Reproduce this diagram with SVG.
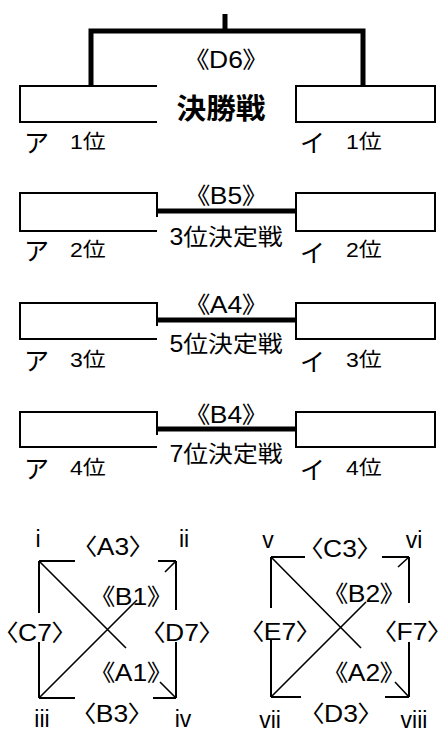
<svg xmlns="http://www.w3.org/2000/svg" width="446" height="742" viewBox="0 0 446 742">
<style>
text{font-family:"Liberation Sans","Noto Sans CJK JP",sans-serif;fill:#000;transform-box:fill-box}
.lb{font-size:23px;text-anchor:middle;font-feature-settings:"palt" 1;transform-origin:center;transform:scaleX(1.15)}
.kana{font-size:25px}
.rank{font-size:20px;transform-origin:left;transform:scaleX(1.15)}
.match{font-size:23px;text-anchor:middle;transform-origin:center;transform:scaleX(1.08)}
.final{font-size:28px;font-weight:bold;text-anchor:middle;transform-origin:center;transform:scaleX(1.06)}
.rn{font-size:23px;text-anchor:middle}
.box{fill:none;stroke:#000;stroke-width:2}
.thick{fill:none;stroke:#000;stroke-width:5}
.thin{fill:none;stroke:#000;stroke-width:2}
.diag{fill:none;stroke:#000;stroke-width:1.6}
</style>
<rect width="446" height="742" fill="#fff"/>
<g id="connectors">
<path class="thick" d="M91,87 V31 H363 V87 M225,14 V31"/>
<path class="thick" d="M157,211 H296"/>
<path class="thick" d="M157,320 H296"/>
<path class="thick" d="M157,429 H296"/>
<path class="thin" d="M39,561 H75 M158,561 H176 M39,561 V613 M39,642 V698 M39,698 H75 M153,698 H176 M176,561 V610 M176,642 V698"/>
<path class="diag" d="M39,561 L126,648 M39,698 L137,600 M165,572 L176,561 M160,682 L176,698"/>
<path class="thin" d="M271,557 H305 M382,557 H409 M271,557 V608 M271,640 V697 M271,697 H301 M385,697 H409 M409,557 V603 M409,642 V697"/>
<path class="diag" d="M271,557 L361,648 M271,697 L366,602 M398,567 L409,557 M395,682 L409,697"/>
</g>
<g id="final">
<path class="box" d="M157,86 H20 V122 H157"/>
<rect class="box" x="296" y="86" width="139" height="36"/>
<text class="lb" x="226" y="68">《D6》</text>
<text class="final" x="221" y="119">決勝戦</text>
<text class="kana" x="24" y="152">ア</text><text class="rank" x="70" y="149">1位</text>
<text class="kana" x="300" y="152">イ</text><text class="rank" x="346" y="149">1位</text>
</g>
<g id="third">
<path class="box" d="M157,217 V193 H20 V231 H157"/>
<rect class="box" x="296" y="193" width="139" height="38"/>
<text class="lb" x="226" y="204">《B5》</text>
<text class="match" x="226" y="245">3位決定戦</text>
<text class="kana" x="24" y="260">ア</text><text class="rank" x="70" y="257">2位</text>
<text class="kana" x="300" y="262">イ</text><text class="rank" x="346" y="257">2位</text>
</g>
<g id="fifth">
<path class="box" d="M157,326 V303 H20 V339 H157"/>
<rect class="box" x="296" y="303" width="139" height="36"/>
<text class="lb" x="226" y="313">《A4》</text>
<text class="match" x="226" y="352">5位決定戦</text>
<text class="kana" x="24" y="370">ア</text><text class="rank" x="70" y="367">3位</text>
<text class="kana" x="300" y="371">イ</text><text class="rank" x="346" y="367">3位</text>
</g>
<g id="seventh">
<path class="box" d="M157,435 V412 H20 V447 H157"/>
<rect class="box" x="296" y="412" width="139" height="35"/>
<text class="lb" x="226" y="423">《B4》</text>
<text class="match" x="226" y="462">7位決定戦</text>
<text class="kana" x="24" y="478">ア</text><text class="rank" x="70" y="475">4位</text>
<text class="kana" x="300" y="479">イ</text><text class="rank" x="346" y="475">4位</text>
</g>
<g id="league1">
<text class="rn" x="38" y="547">i</text>
<text class="rn" x="184" y="547">ii</text>
<text class="rn" x="42" y="727">iii</text>
<text class="rn" x="183" y="727">iv</text>
<text class="lb" x="113" y="555">〈A3〉</text>
<text class="lb" x="131" y="605">《B1》</text>
<text class="lb" x="35" y="641">〈C7〉</text>
<text class="lb" x="182" y="641">〈D7〉</text>
<text class="lb" x="131" y="681">《A1》</text>
<text class="lb" x="112" y="722">〈B3〉</text>
</g>
<g id="league2">
<text class="rn" x="268" y="548">v</text>
<text class="rn" x="414" y="548">vi</text>
<text class="rn" x="270" y="728">vii</text>
<text class="rn" x="414" y="728">viii</text>
<text class="lb" x="340" y="557">〈C3〉</text>
<text class="lb" x="364" y="602">《B2》</text>
<text class="lb" x="280" y="640">〈E7〉</text>
<text class="lb" x="412" y="640">〈F7〉</text>
<text class="lb" x="364" y="681">《A2》</text>
<text class="lb" x="341" y="722">〈D3〉</text>
</g>
</svg>
